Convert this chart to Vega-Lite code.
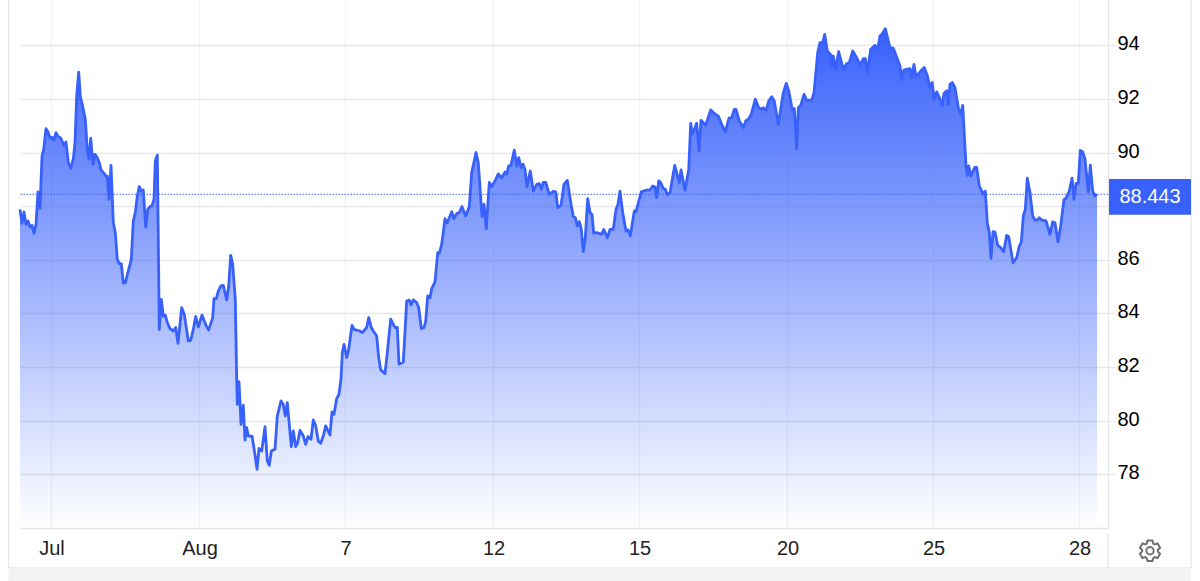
{
  "$schema": "https://vega.github.io/schema/vega-lite/v6.json",
  "width": 1088,
  "height": 528,
  "autosize": {"type": "none"},
  "padding": {"left": 20, "right": 92, "top": 0, "bottom": 53},
  "background": "#ffffff",
  "config": {"view": {"stroke": null}, "font": "Liberation Sans"},
  "datasets": {
    "prices": [
      {"bar":-32,"price":87.88},{"bar":-30,"price":87.36},{"bar":-28,"price":87.78},{"bar":-26,"price":87.32},{"bar":-24,"price":87.45},{"bar":-22,"price":87.22},{"bar":-20,"price":87.28},{"bar":-18,"price":86.98},{"bar":-16,"price":87.32},{"bar":-14,"price":88.53},{"bar":-12,"price":87.92},{"bar":-10,"price":89.87},{"bar":-8.3,"price":90.12},{"bar":-6,"price":90.89},{"bar":-4,"price":90.77},{"bar":-2,"price":90.54},{"bar":0,"price":90.57},{"bar":2,"price":90.46},{"bar":4,"price":90.74},{"bar":6.3,"price":90.59},{"bar":8.7,"price":90.54},{"bar":12,"price":90.27},{"bar":14,"price":90.39},{"bar":16.3,"price":89.62},{"bar":18.7,"price":89.42},{"bar":21.3,"price":89.75},{"bar":23,"price":90.37},{"bar":24.7,"price":92.11},{"bar":26.7,"price":93.0},{"bar":28.3,"price":92.11},{"bar":31.3,"price":91.61},{"bar":33.3,"price":91.24},{"bar":35.3,"price":90.12},{"bar":37,"price":89.75},{"bar":38.7,"price":90.53},{"bar":41,"price":89.56},{"bar":43,"price":89.93},{"bar":45.3,"price":89.81},{"bar":47.3,"price":89.62},{"bar":49,"price":89.35},{"bar":52,"price":89.22},{"bar":54,"price":89.12},{"bar":55.3,"price":89.12},{"bar":57,"price":88.25},{"bar":59,"price":89.52},{"bar":61.3,"price":87.38},{"bar":63.3,"price":87.01},{"bar":65.3,"price":86.01},{"bar":67.3,"price":85.85},{"bar":69.3,"price":85.85},{"bar":71.3,"price":85.14},{"bar":73.3,"price":85.14},{"bar":76.3,"price":85.58},{"bar":79.3,"price":86.01},{"bar":81.3,"price":87.45},{"bar":83.3,"price":87.76},{"bar":85.3,"price":88.38},{"bar":87.3,"price":88.73},{"bar":89.3,"price":88.56},{"bar":91.3,"price":88.6},{"bar":93.7,"price":87.22},{"bar":95.7,"price":87.88},{"bar":98,"price":87.98},{"bar":100,"price":88.01},{"bar":102,"price":88.25},{"bar":103.3,"price":89.68},{"bar":105.3,"price":89.9},{"bar":106.3,"price":86.76},{"bar":107.3,"price":83.4},{"bar":109.3,"price":84.52},{"bar":111.3,"price":83.9},{"bar":113.3,"price":83.93},{"bar":115.3,"price":83.65},{"bar":118,"price":83.43},{"bar":121.3,"price":83.34},{"bar":123.7,"price":83.47},{"bar":126,"price":82.88},{"bar":129.7,"price":84.21},{"bar":132.3,"price":83.96},{"bar":136.3,"price":82.97},{"bar":138.7,"price":82.99},{"bar":141.3,"price":83.4},{"bar":143.7,"price":83.88},{"bar":146.3,"price":83.49},{"bar":150,"price":83.93},{"bar":154,"price":83.55},{"bar":156.7,"price":83.38},{"bar":160.7,"price":83.84},{"bar":162,"price":84.55},{"bar":164.3,"price":84.55},{"bar":166.3,"price":84.83},{"bar":168.7,"price":85.02},{"bar":171.3,"price":85.04},{"bar":174.7,"price":84.5},{"bar":176.7,"price":85.02},{"bar":178.7,"price":86.16},{"bar":180.7,"price":85.83},{"bar":183.3,"price":84.52},{"bar":184.7,"price":81.54},{"bar":185.3,"price":80.6},{"bar":187,"price":81.45},{"bar":189,"price":79.86},{"bar":191.3,"price":80.57},{"bar":193,"price":79.27},{"bar":194.7,"price":79.73},{"bar":196.3,"price":79.42},{"bar":200,"price":79.42},{"bar":202.7,"price":78.8},{"bar":205,"price":78.18},{"bar":207,"price":78.96},{"bar":209.7,"price":78.86},{"bar":213,"price":79.77},{"bar":215.3,"price":78.49},{"bar":217.3,"price":78.33},{"bar":219.3,"price":78.86},{"bar":223,"price":78.93},{"bar":225.3,"price":80.17},{"bar":229,"price":80.73},{"bar":231.3,"price":80.6},{"bar":233.3,"price":80.17},{"bar":235.3,"price":80.67},{"bar":239.3,"price":79.03},{"bar":241.3,"price":79.61},{"bar":243.7,"price":79.03},{"bar":245.7,"price":79.17},{"bar":248,"price":79.63},{"bar":251.3,"price":79.42},{"bar":253.7,"price":79.11},{"bar":256,"price":79.4},{"bar":259,"price":79.3},{"bar":261.3,"price":80.02},{"bar":263.7,"price":79.8},{"bar":266.3,"price":79.24},{"bar":268.7,"price":79.15},{"bar":271.3,"price":79.42},{"bar":273.7,"price":79.8},{"bar":278,"price":79.46},{"bar":280,"price":80.32},{"bar":282,"price":80.23},{"bar":284.7,"price":80.82},{"bar":287,"price":80.98},{"bar":289,"price":81.54},{"bar":290.3,"price":82.53},{"bar":292,"price":82.84},{"bar":294.7,"price":82.35},{"bar":296.7,"price":82.66},{"bar":300,"price":83.55},{"bar":302,"price":83.4},{"bar":308,"price":83.34},{"bar":310.3,"price":83.28},{"bar":314.7,"price":83.47},{"bar":316.7,"price":83.84},{"bar":319.3,"price":83.47},{"bar":321.3,"price":83.34},{"bar":324.7,"price":83.15},{"bar":326.7,"price":82.35},{"bar":328.7,"price":81.89},{"bar":333,"price":81.75},{"bar":335.3,"price":82.53},{"bar":338.7,"price":83.78},{"bar":341.3,"price":83.59},{"bar":343,"price":83.47},{"bar":345.3,"price":83.47},{"bar":347,"price":82.1},{"bar":351.3,"price":82.18},{"bar":354.7,"price":84.46},{"bar":357.3,"price":84.49},{"bar":359,"price":84.31},{"bar":361.3,"price":84.5},{"bar":364.7,"price":84.4},{"bar":366.7,"price":84.21},{"bar":369.3,"price":83.43},{"bar":372,"price":83.47},{"bar":373.7,"price":83.71},{"bar":375.7,"price":84.65},{"bar":378,"price":84.58},
      {"bar":379.7,"price":84.92},{"bar":383,"price":85.17},{"bar":385.7,"price":86.26},{"bar":387.3,"price":86.24},{"bar":389.7,"price":86.57},{"bar":393,"price":87.53},{"bar":395.3,"price":87.38},{"bar":399.7,"price":87.79},{"bar":402,"price":87.53},{"bar":404.7,"price":87.72},{"bar":407.3,"price":87.76},{"bar":410,"price":87.98},{"bar":413.7,"price":87.63},{"bar":417.3,"price":87.98},{"bar":419.7,"price":89.25},{"bar":424,"price":90.0},{"bar":426.3,"price":89.62},{"bar":430,"price":87.61},{"bar":432,"price":88.07},{"bar":434.3,"price":87.16},{"bar":437.3,"price":88.88},{"bar":439.7,"price":88.73},{"bar":443,"price":88.94},{"bar":446.3,"price":89.2},{"bar":449.7,"price":89.05},{"bar":453,"price":89.27},{"bar":454.7,"price":89.19},{"bar":456.7,"price":89.5},{"bar":459,"price":89.52},{"bar":462.3,"price":90.09},{"bar":464.7,"price":89.5},{"bar":466.7,"price":89.81},{"bar":469,"price":89.44},{"bar":471,"price":89.56},{"bar":473,"price":89.37},{"bar":475,"price":88.73},{"bar":478.3,"price":89.31},{"bar":481.3,"price":88.56},{"bar":484.7,"price":88.81},{"bar":487.3,"price":88.84},{"bar":489.3,"price":88.63},{"bar":491.3,"price":88.88},{"bar":493.7,"price":88.88},{"bar":497.3,"price":88.44},{"bar":501.3,"price":88.55},{"bar":503.7,"price":88.53},{"bar":505.7,"price":87.94},{"bar":509,"price":88.03},{"bar":512,"price":88.81},{"bar":515.3,"price":88.96},{"bar":519.3,"price":88.01},{"bar":521.3,"price":87.61},{"bar":523.3,"price":87.57},{"bar":525.3,"price":87.26},{"bar":527.3,"price":87.42},{"bar":529.3,"price":87.13},{"bar":531.3,"price":86.3},{"bar":533.3,"price":86.82},{"bar":535.7,"price":88.28},{"bar":538,"price":87.76},{"bar":540,"price":87.69},{"bar":541.7,"price":86.99},{"bar":544.7,"price":87.01},{"bar":549.7,"price":86.95},{"bar":551.7,"price":87.13},{"bar":555.3,"price":86.82},{"bar":558,"price":87.13},{"bar":561.3,"price":87.13},{"bar":564,"price":87.88},{"bar":566,"price":88.07},{"bar":568,"price":88.56},{"bar":570.7,"price":87.76},{"bar":574,"price":87.07},{"bar":576,"price":87.11},{"bar":578.3,"price":86.89},{"bar":582.3,"price":87.82},{"bar":584,"price":87.79},{"bar":589.3,"price":88.53},{"bar":594.7,"price":88.6},{"bar":598,"price":88.6},{"bar":600.7,"price":88.75},{"bar":603,"price":88.71},{"bar":604.7,"price":88.32},{"bar":606.7,"price":88.94},{"bar":608.7,"price":88.88},{"bar":611.3,"price":88.65},{"bar":613.3,"price":88.63},{"bar":615.3,"price":88.42},{"bar":618,"price":88.5},{"bar":622.7,"price":89.52},{"bar":627.3,"price":88.88},{"bar":629,"price":89.35},{"bar":633,"price":88.59},{"bar":636.7,"price":89.37},
      {"bar":638.7,"price":91.09},{"bar":640.3,"price":90.68},{"bar":644.7,"price":91.09},{"bar":647,"price":90.06},{"bar":649,"price":91.2},{"bar":653.7,"price":91.02},{"bar":658.7,"price":91.59},{"bar":661.3,"price":91.49},{"bar":666.3,"price":91.36},{"bar":669.7,"price":91.05},{"bar":673.3,"price":90.77},{"bar":677,"price":91.28},{"bar":679.7,"price":91.3},{"bar":682.3,"price":91.61},{"bar":684,"price":91.61},{"bar":687.3,"price":91.18},{"bar":691.3,"price":90.93},{"bar":693.7,"price":91.18},{"bar":696.3,"price":91.24},{"bar":699.3,"price":91.43},{"bar":703.3,"price":91.99},{"bar":706.7,"price":91.67},{"bar":709.7,"price":91.61},{"bar":711.3,"price":91.67},{"bar":714,"price":91.55},{"bar":716.7,"price":91.92},{"bar":719.7,"price":92.08},{"bar":722.3,"price":91.92},{"bar":726.3,"price":91.05},{"bar":731.3,"price":92.23},{"bar":734.3,"price":92.58},{"bar":736.7,"price":92.3},{"bar":740.3,"price":91.59},{"bar":742.3,"price":91.64},{"bar":744.7,"price":90.14},{"bar":746.3,"price":91.67},{"bar":748.7,"price":91.76},{"bar":752,"price":92.17},{"bar":754.7,"price":91.95},{"bar":759.7,"price":91.95},{"bar":762,"price":92.23},{"bar":765.7,"price":93.73},{"bar":768,"price":94.1},{"bar":770.7,"price":94.1},{"bar":772.7,"price":94.41},{"bar":775.3,"price":93.79},{"bar":778.7,"price":93.66},{"bar":780,"price":93.23},{"bar":781.3,"price":93.6},{"bar":783.3,"price":93.1},{"bar":786.7,"price":93.76},{"bar":791.3,"price":93.1},{"bar":794.7,"price":93.32},{"bar":797.3,"price":93.35},{"bar":800.7,"price":93.79},{"bar":804.7,"price":93.54},{"bar":808,"price":93.27},{"bar":811.3,"price":93.5},{"bar":813.3,"price":93.5},{"bar":815.3,"price":92.98},{"bar":818.7,"price":93.85},{"bar":823,"price":94.0},{"bar":825.3,"price":93.79},{"bar":828,"price":94.35},{"bar":830,"price":94.41},{"bar":833.3,"price":94.62},{"bar":838,"price":93.91},{"bar":841.3,"price":93.89},{"bar":848,"price":93.23},{"bar":849.7,"price":92.73},{"bar":852,"price":93.08},{"bar":858,"price":93.13},{"bar":859.7,"price":92.79},{"bar":862,"price":93.29},{"bar":864,"price":92.83},{"bar":868.7,"price":93.04},{"bar":872.3,"price":93.17},{"bar":875.3,"price":92.86},{"bar":878,"price":92.42},{"bar":880.3,"price":92.61},{"bar":882,"price":91.99},{"bar":884.7,"price":92.26},{"bar":888,"price":91.99},{"bar":890.3,"price":91.76},{"bar":892,"price":92.21},{"bar":894.7,"price":92.3},{"bar":896.3,"price":91.8},{"bar":898,"price":92.55},{"bar":900.3,"price":92.61},{"bar":903,"price":92.42},{"bar":906.7,"price":91.59},{"bar":908.7,"price":91.43},{"bar":910.7,"price":91.76},{"bar":914,"price":89.5},{"bar":915.3,"price":89.15},{"bar":916.7,"price":89.5},{"bar":918.7,"price":89.12},{"bar":922.7,"price":89.44},{"bar":924.7,"price":89.44},
      {"bar":927.3,"price":88.75},{"bar":931.3,"price":88.44},{"bar":933.3,"price":88.56},{"bar":935.3,"price":87.38},{"bar":937.3,"price":87.01},{"bar":939,"price":86.05},{"bar":941,"price":87.05},{"bar":943,"price":87.03},{"bar":945.7,"price":86.54},{"bar":948.7,"price":86.45},{"bar":951.7,"price":86.3},{"bar":954.7,"price":86.91},{"bar":956.7,"price":86.86},{"bar":961,"price":85.89},{"bar":964.7,"price":86.08},{"bar":967.3,"price":86.51},{"bar":969.3,"price":86.66},{"bar":971.3,"price":87.63},{"bar":973.3,"price":87.88},{"bar":975.3,"price":89.04},{"bar":978,"price":88.5},{"bar":980.7,"price":87.63},{"bar":983,"price":87.48},{"bar":985.3,"price":87.48},{"bar":987.3,"price":87.57},{"bar":989.7,"price":87.48},{"bar":994,"price":87.45},{"bar":998,"price":86.95},{"bar":1000.7,"price":87.41},{"bar":1003,"price":87.38},{"bar":1006,"price":86.67},{"bar":1008.7,"price":87.26},{"bar":1012,"price":88.25},{"bar":1014,"price":88.29},{"bar":1017.3,"price":88.56},{"bar":1020,"price":89.04},{"bar":1022,"price":88.25},{"bar":1024,"price":88.85},{"bar":1026.3,"price":88.85},{"bar":1028.3,"price":90.08},{"bar":1030.7,"price":90.02},{"bar":1033,"price":89.75},{"bar":1036.3,"price":88.53},{"bar":1038.3,"price":89.53},{"bar":1040.7,"price":88.56},{"bar":1043,"price":88.38},{"bar":1045,"price":88.443}
    ],
    "last": [{"price": 88.443, "label": "88.443"}],
    "one": [{}]
  },
  "layer": [
    {
      "data": {"name": "prices"},
      "mark": {
        "type": "area",
        "color": {
          "gradient": "linear",
          "x1": 1, "y1": 1, "x2": 1, "y2": 0,
          "stops": [
            {"offset": 0, "color": "rgba(56,97,251,0)"},
            {"offset": 1, "color": "rgba(56,97,251,1)"}
          ]
        }
      },
      "encoding": {
        "x": {
          "field": "bar",
          "type": "quantitative",
          "scale": {"domain": [-32, 1056], "nice": false, "zero": false},
          "axis": {
            "orient": "bottom",
            "title": null,
            "values": [-1, 147, 293, 441, 587, 735, 881, 1027],
            "labelExpr": "datum.value==-1?'Jul':datum.value==147?'Aug':datum.value==293?'7':datum.value==441?'12':datum.value==587?'15':datum.value==735?'20':datum.value==881?'25':'28'",
            "grid": true,
            "gridColor": "#eff2f6",
            "gridWidth": 1.3,
            "ticks": false,
            "domainColor": "#e6e6e6",
            "domainWidth": 1.3,
            "labelFont": "Liberation Sans",
            "labelFontSize": 20,
            "labelColor": "#222222",
            "labelPadding": 10,
            "labelOffset": 0.5,
            "labelFlush": false,
            "labelOverlap": false
          }
        },
        "y": {
          "field": "price",
          "type": "quantitative",
          "scale": {"domain": [75.99, 95.69], "nice": false, "zero": false},
          "axis": {
            "orient": "right",
            "title": null,
            "values": [78, 80, 82, 84, 86, 88, 90, 92, 94],
            "labelExpr": "datum.value==88?'':datum.label",
            "grid": true,
            "gridColor": "#e8e8e8",
            "gridWidth": 1.3,
            "tickColor": "#e8e8e8",
            "tickSize": 7,
            "tickWidth": 1.3,
            "domainColor": "#e6e6e6",
            "domainWidth": 1.3,
            "labelFont": "Liberation Sans",
            "labelFontSize": 20,
            "labelColor": "#000000",
            "labelPadding": 2,
            "labelOffset": -1.5,
            "labelOverlap": false
          }
        },
        "y2": {"datum": 75.99}
      }
    },
    {
      "data": {"name": "prices"},
      "mark": {"type": "line", "color": "#3861fb", "strokeWidth": 2.8, "strokeJoin": "round"},
      "encoding": {
        "x": {"field": "bar", "type": "quantitative"},
        "y": {"field": "price", "type": "quantitative"}
      }
    },
    {
      "data": {"name": "last"},
      "mark": {"type": "rule", "color": "#3861fb", "strokeDash": [1.5, 1.5], "strokeWidth": 1.2},
      "encoding": {
        "y": {"field": "price", "type": "quantitative"}
      }
    },
    {
      "data": {"name": "one"},
      "mark": {"type": "rule", "color": "#e6e6e6", "strokeWidth": 1.3},
      "encoding": {"x": {"datum": -43.5}, "y": {"datum": 95.69}, "y2": {"datum": 74.5}}
    },
    {
      "data": {"name": "one"},
      "mark": {"type": "rule", "color": "#e6e6e6", "strokeWidth": 1.3},
      "encoding": {"x": {"datum": 1139}, "y": {"datum": 95.69}, "y2": {"datum": 74.5}}
    },
    {
      "data": {"name": "one"},
      "mark": {"type": "rule", "color": "#e6e6e6", "strokeWidth": 1.3},
      "encoding": {"x": {"datum": 1056}, "y": {"datum": 75.8}, "y2": {"datum": 74.5}}
    },
    {
      "data": {"name": "one"},
      "mark": {"type": "rect", "color": "#f3f3f3"},
      "encoding": {"x": {"datum": -43.5}, "x2": {"datum": 1139}, "y": {"datum": 74.48}, "y2": {"datum": 74.0}}
    },
    {
      "data": {"name": "one"},
      "mark": {"type": "rule", "color": "#e6e6e6", "strokeWidth": 1.3},
      "encoding": {"x": {"datum": -43.5}, "x2": {"datum": 1139}, "y": {"datum": 74.5}}
    },
    {
      "data": {"name": "last"},
      "mark": {"type": "rect", "color": "#3861fb"},
      "encoding": {"x": {"datum": 1057}, "x2": {"datum": 1139}, "y": {"datum": 89.01}, "y2": {"datum": 87.68}}
    },
    {
      "data": {"name": "last"},
      "mark": {"type": "text", "color": "#ffffff", "font": "Liberation Sans", "fontSize": 20, "align": "center", "baseline": "middle"},
      "encoding": {"x": {"datum": 1098}, "y": {"datum": 88.33}, "text": {"field": "label"}}
    },
    {
      "data": {"name": "one"},
      "mark": {
        "type": "point",
        "shape": "M-.31-.69L-.24-.97L.24-.97L.31-.69L.44-.61L.72-.69L.96-.28L.75-.08L.75 .08L.96 .28L.72 .69L.44 .61L.31 .69L.24 .97L-.24 .97L-.31 .69L-.44 .61L-.72 .69L-.96 .28L-.75 .08L-.75-.08L-.96-.28L-.72-.69L-.44-.61ZM.35 0A.35 .35 0 1 1-.35 0A.35 .35 0 1 1 .35 0Z",
        "size": 440,
        "filled": false,
        "stroke": "#707070",
        "strokeWidth": 2,
        "opacity": 1
      },
      "encoding": {"x": {"datum": 1098}, "y": {"datum": 75.14}}
    }
  ]
}
